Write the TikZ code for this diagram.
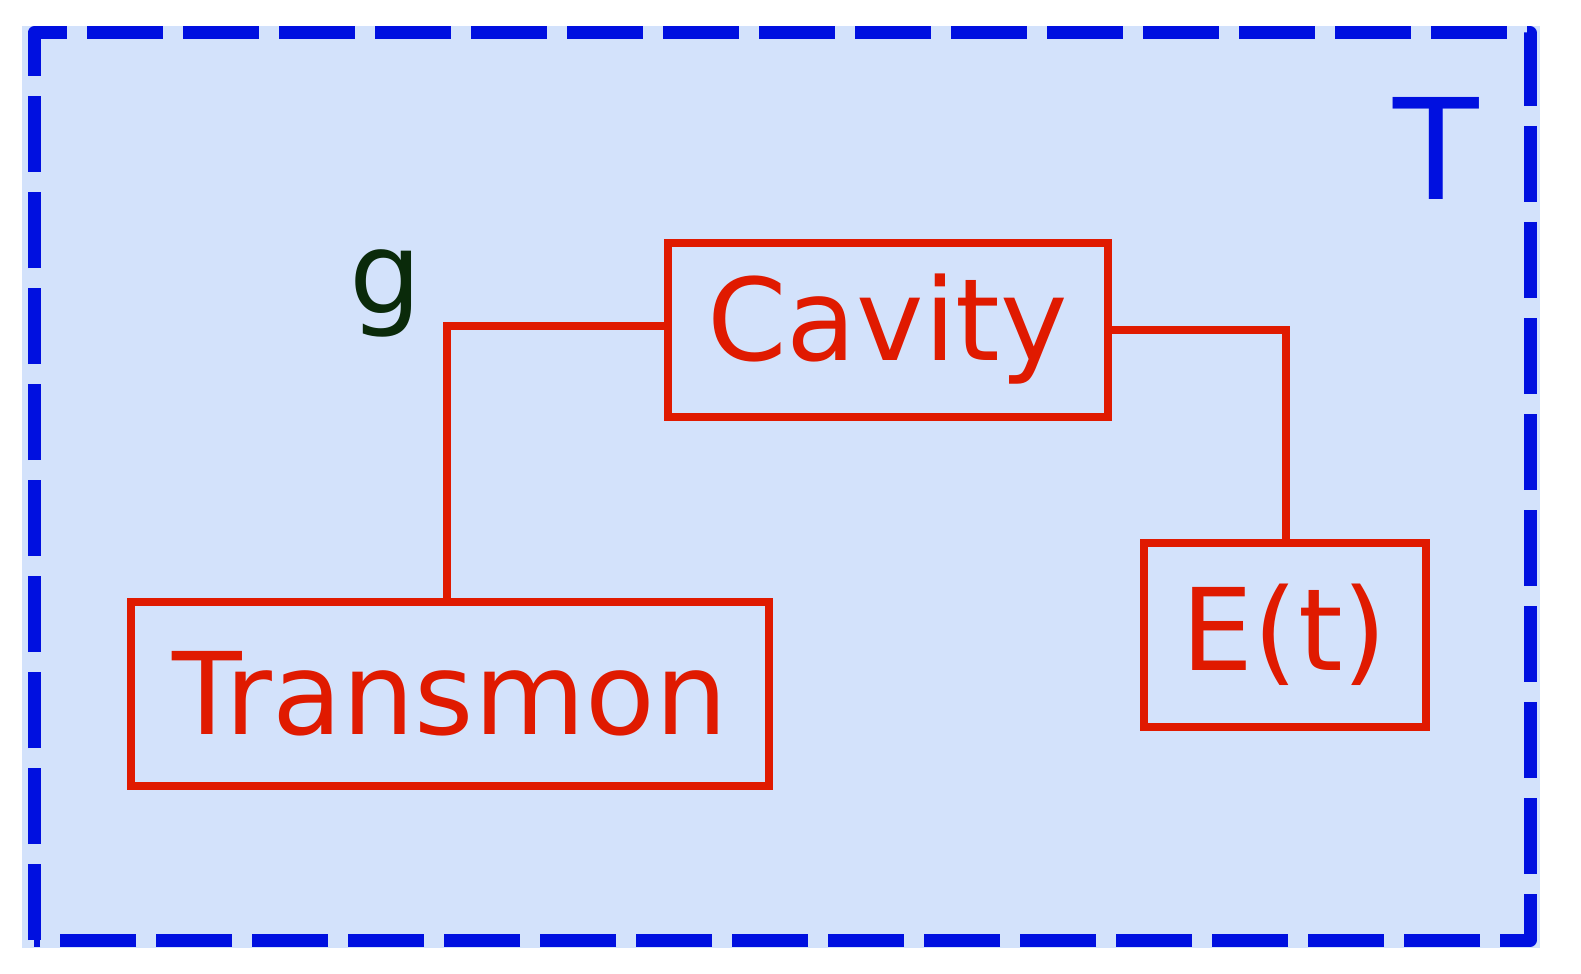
\documentclass[tikz,border=0pt]{standalone}
\usepackage{fontspec}
\setmainfont{DejaVu Sans}
\definecolor{bfill}{HTML}{D3E2FB}
\definecolor{bline}{HTML}{0010E0}
\definecolor{rline}{HTML}{E01A00}
\definecolor{gtxt}{HTML}{0A2A0A}
\begin{document}
\begin{tikzpicture}[x=0.5pt,y=-0.5pt,
  box/.style={draw=rline,line width=4pt,text=rline,inner sep=0pt,font=\fontsize{57}{60}\selectfont},
  conn/.style={draw=rline,line width=4pt}]
\useasboundingbox (0,0) rectangle (1581,974);
\fill[bfill] (22,26) rectangle (1540,948);
\draw[bline,line width=6.5pt,dash pattern=on 38pt off 10pt,line join=round] (34,940) -- (34,33) -- (1530,33) -- (1530,940) -- cycle;
\node[box,minimum width=220pt,minimum height=87pt] (cav) at (887.5,329.5) {Cavity};
\node[box,minimum width=319pt,minimum height=92pt] (tr) at (450,693.5) {Transmon};
\node[box,minimum width=141pt,minimum height=92pt] (et) at (1284.5,635) {E(t)};
\node[text=bline,font=\fontsize{70}{74}\selectfont] (T) at (1436,148) {T};
\node[text=gtxt,font=\fontsize{57}{60}\selectfont] (g) at (386,293) {g};
\coordinate (c1) at (447,326);
\coordinate (c2) at (1286,330);
\draw[conn] (cav.west |- c1) -- (c1) -- (c1 |- tr.north);
\draw[conn] (cav.east |- c2) -- (c2) -- (c2 |- et.north);
\end{tikzpicture}
\end{document}
